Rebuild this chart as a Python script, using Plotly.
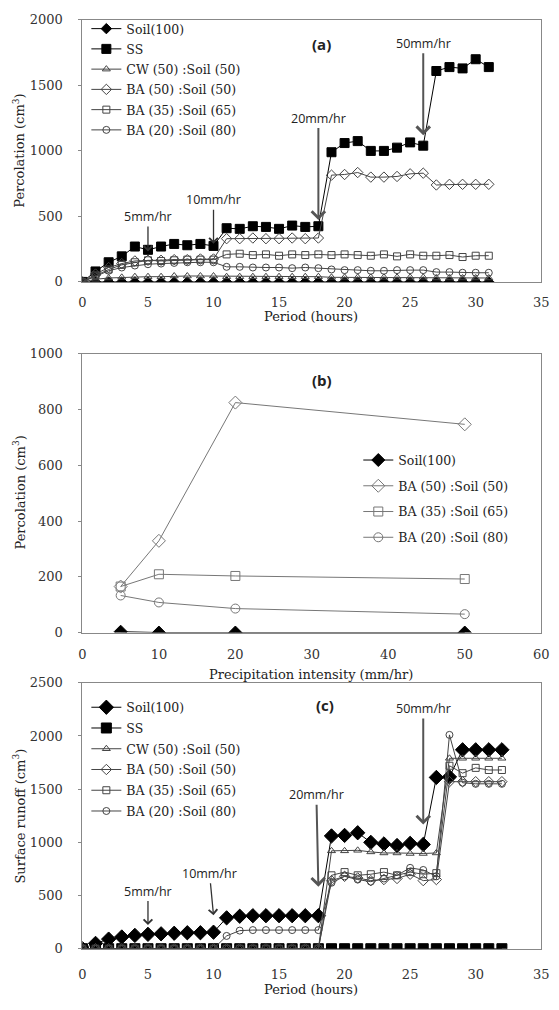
import plotly.graph_objects as go

# page body has an 8px margin, so the figure is placed at (8, 8)
OFF = 8
W, H = 551, 994

# ---------------- data ----------------
hours_a = [0, 1, 2, 3, 4, 5, 6, 7, 8, 9, 10, 11, 12, 13, 14, 15, 16, 17, 18, 19, 20, 21, 22, 23, 24, 25, 26, 27, 28, 29, 30, 31]
a_soil = [0, 0, 0, 0, 0, 0, 0, 0, 0, 0, 0, 0, 0, 0, 0, 0, 0, 0, 0, 0, 0, 0, 0, 0, 0, 0, 0, 0, 0, 0, 0, 0]
a_ss = [0, 80, 150, 195, 270, 245, 270, 290, 280, 290, 275, 410, 405, 425, 420, 405, 430, 420, 425, 990, 1060, 1075, 1000, 1000, 1025, 1065, 1040, 1610, 1640, 1630, 1700, 1640]
a_cw = [0, 20, 30, 35, 40, 40, 40, 45, 45, 45, 45, 40, 40, 40, 40, 40, 40, 40, 40, 35, 35, 35, 35, 35, 35, 35, 35, 30, 30, 30, 30, 30]
a_ba50 = [0, 60, 110, 140, 160, 165, 165, 170, 170, 175, 175, 330, 330, 335, 330, 330, 335, 330, 335, 815, 820, 835, 800, 800, 805, 825, 830, 740, 745, 745, 745, 745]
a_ba35 = [0, 50, 95, 130, 150, 165, 160, 165, 170, 170, 170, 210, 215, 205, 210, 200, 210, 205, 210, 205, 210, 205, 200, 210, 195, 210, 200, 200, 205, 190, 200, 200]
a_ba20 = [0, 45, 85, 110, 125, 135, 140, 145, 150, 150, 150, 115, 115, 110, 110, 110, 105, 110, 105, 95, 90, 90, 85, 85, 90, 90, 90, 75, 75, 70, 70, 70]

intensity_b = [5, 10, 20, 50]
b_soil = [3, 0, 0, 0]
b_ba50 = [165, 329, 825, 747]
b_ba35 = [165, 209, 203, 192]
b_ba20 = [133, 108, 86, 66]

hours_c = [0, 1, 2, 3, 4, 5, 6, 7, 8, 9, 10, 11, 12, 13, 14, 15, 16, 17, 18, 19, 20, 21, 22, 23, 24, 25, 26, 27, 28, 29, 30, 31, 32]
c_soil = [0, 50, 90, 110, 125, 135, 140, 145, 150, 150, 155, 290, 305, 310, 310, 310, 310, 310, 310, 1060, 1065, 1090, 1000, 985, 970, 990, 980, 1610, 1615, 1870, 1870, 1870, 1870]
c_ss = [0, 0, 0, 0, 0, 0, 0, 0, 0, 0, 0, 0, 0, 0, 0, 0, 0, 0, 0, 0, 0, 0, 0, 0, 0, 0, 0, 0, 0, 0, 0, 0, 0]
c_cw = [0, 0, 0, 0, 0, 0, 0, 0, 0, 0, 0, 0, 0, 0, 0, 0, 0, 0, 0, 920, 920, 925, 910, 900, 900, 895, 895, 900, 1790, 1790, 1790, 1790, 1790]
c_ba50 = [0, 0, 0, 0, 0, 0, 0, 0, 0, 0, 0, 0, 0, 0, 0, 0, 0, 0, 0, 640, 680, 665, 640, 650, 660, 700, 640, 650, 1570, 1570, 1570, 1570, 1570]
c_ba35 = [0, 0, 0, 0, 0, 0, 0, 0, 0, 0, 0, 0, 0, 0, 0, 0, 0, 0, 0, 690, 720, 690, 700, 720, 690, 720, 700, 710, 1720, 1650, 1700, 1680, 1680]
c_ba20 = [0, 0, 0, 0, 0, 0, 0, 0, 0, 0, 0, 120, 170, 175, 175, 175, 175, 175, 175, 620, 680, 650, 630, 660, 690, 760, 740, 680, 2010, 1560, 1550, 1550, 1550]

names_full = ["Soil(100)", "SS", "CW (50) :Soil (50)", "BA (50) :Soil (50)", "BA (35) :Soil (65)", "BA (20) :Soil (80)"]
names_b = ["Soil(100)", "BA (50) :Soil (50)", "BA (35) :Soil (65)", "BA (20) :Soil (80)"]

# ---------------- helpers (page pixels -> paper) ----------------
def px(x):
    return (x - OFF) / W

def py(y):
    return 1 - (y - OFF) / H

SERIF = "DejaVu Serif"
SANS = "Open Sans"

fig = go.Figure()

def add_series(xs, ys_list, names, styles, xa, ya, leg, prefix, line_colors):
    for i, (ys, nm, st, lc) in enumerate(zip(ys_list, names, styles, line_colors)):
        fig.add_trace(go.Scatter(
            x=xs, y=ys, name=nm, mode="lines+markers",
            line=dict(color=lc, width=1),
            marker=dict(symbol=st[0], size=st[1], color=st[2],
                        line=dict(color=st[2], width=1)),
            xaxis=xa, yaxis=ya, legend=leg, legendgroup=prefix + str(i)))

styles_a = [("diamond", 8, "black"), ("square", 9, "black"), ("triangle-up-open", 7, "#444"),
            ("diamond-open", 8, "#444"), ("square-open", 7, "#444"), ("circle-open", 7, "#444")]
add_series(hours_a, [a_soil, a_ss, a_cw, a_ba50, a_ba35, a_ba20], names_full, styles_a,
           "x", "y", "legend", "a", ["black", "black", "#444", "#444", "#444", "#444"])

styles_b = [("diamond", 10, "black"), ("diamond-open", 10, "#777"),
            ("square-open", 9, "#777"), ("circle-open", 9, "#777")]
add_series(intensity_b, [b_soil, b_ba50, b_ba35, b_ba20], names_b, styles_b,
           "x2", "y2", "legend2", "b", ["black", "#777", "#777", "#777"])

styles_c = [("diamond", 11, "black"), ("square", 10, "black"), ("triangle-up-open", 7, "#444"),
            ("diamond-open", 8, "#444"), ("square-open", 7, "#444"), ("circle-open", 7, "#444")]
add_series(hours_c, [c_soil, c_ss, c_cw, c_ba50, c_ba35, c_ba20], names_full, styles_c,
           "x3", "y3", "legend3", "c", ["black", "black", "#444", "#444", "#444", "#444"])

# ---------------- axes ----------------
xdom = [px(80), px(549)]
tickfont = dict(family=SERIF, size=13, color="#333")
common_x = dict(showline=True, linecolor="#888", linewidth=1, mirror=True, showgrid=False,
                zeroline=False, ticks="", tickfont=tickfont, ticklabeloverflow="allow")
common_y = dict(showline=True, linecolor="#888", linewidth=1, mirror=True, showgrid=False,
                zeroline=False, ticks="outside", ticklen=3, tickcolor="#888",
                tickfont=tickfont, ticklabelstandoff=13)

legfont = dict(family=SERIF, size=12.5, color="#222")
fig.update_layout(
    width=W, height=H, margin=dict(l=0, r=0, t=0, b=0),
    paper_bgcolor="white", plot_bgcolor="white",
    xaxis=dict(domain=xdom, range=[0, 35], dtick=5, anchor="y", ticklabelstandoff=8, **common_x),
    yaxis=dict(domain=[py(279), py(13)], range=[0, 2000], dtick=500, anchor="x", **common_y),
    xaxis2=dict(domain=xdom, range=[0, 60], dtick=10, anchor="y2", ticklabelstandoff=10, **common_x),
    yaxis2=dict(domain=[py(635), py(352)], range=[0, 1000], dtick=200, anchor="x2", **common_y),
    xaxis3=dict(domain=xdom, range=[0, 35], dtick=5, anchor="y3", ticklabelstandoff=14, **common_x),
    yaxis3=dict(domain=[py(956), py(686)], range=[0, 2500], dtick=500, anchor="x3", **common_y),
    legend=dict(x=px(84), y=py(7), xanchor="left", yanchor="top", bgcolor="rgba(0,0,0,0)",
                font=legfont, itemwidth=30, tracegroupgap=1),
    legend2=dict(x=px(362), y=py(445), xanchor="left", yanchor="top", bgcolor="rgba(0,0,0,0)",
                 font=legfont, itemwidth=30, tracegroupgap=6.5),
    legend3=dict(x=px(84), y=py(696), xanchor="left", yanchor="top", bgcolor="rgba(0,0,0,0)",
                 font=legfont, itemwidth=30, tracegroupgap=1.5),
    showlegend=True,
)

# ---------------- annotations ----------------
ann = []
title_font = dict(family=SERIF, size=13, color="#222")

def text(t, x, y, font, angle=0):
    ann.append(dict(text=t, x=px(x), y=py(y), xref="paper", yref="paper", showarrow=False,
                    xanchor="center", yanchor="middle", textangle=angle, font=font))

text("Period (hours)", 314, 314, title_font)
text("Precipitation intensity (mm/hr)", 314, 678, title_font)
text("Period (hours)", 314, 997, title_font)
text("Percolation (cm<sup>3</sup>)", 15, 146, title_font, -90)
text("Percolation (cm<sup>3</sup>)", 15, 493, title_font, -90)
text("Surface runoff (cm<sup>3</sup>)", 15, 821, title_font, -90)

label_font = dict(family=SANS, size=15, color="#222", weight="bold")
text("(a)", 324, 37, label_font)
text("(b)", 325, 379, label_font)
text("(c)", 328, 709, label_font)

arr_font = dict(family=SANS, size=12.5, color="#222")
def arrow(t, x, y, ax, ay, xr, yr, width=1.3, color="#333"):
    ann.append(dict(text=t, x=x, y=y, xref=xr, yref=yr, ax=ax, ay=ay, showarrow=True,
                    xanchor="center", yanchor="middle",
                    arrowhead=4, arrowsize=1.3, arrowwidth=width, arrowcolor=color, font=arr_font))

arrow("5mm/hr", 5, 232, 0, -35, "x", "y")
arrow("10mm/hr", 10, 292, 0, -44, "x", "y")
arrow("20mm/hr", 18, 472, 0, -102, "x", "y", width=2, color="#555")
arrow("50mm/hr", 26, 1120, 0, -92, "x", "y", width=2, color="#555")

arrow("5mm/hr", 5, 222, 0, -34, "x3", "y3")
arrow("10mm/hr", 10, 315, -4, -42, "x3", "y3")
arrow("20mm/hr", 18, 583, -2, -92, "x3", "y3", width=2, color="#555")
arrow("50mm/hr", 26, 1167, 0, -116, "x3", "y3", width=2, color="#555")

fig.update_layout(annotations=ann)
fig.write_html("out.html")
